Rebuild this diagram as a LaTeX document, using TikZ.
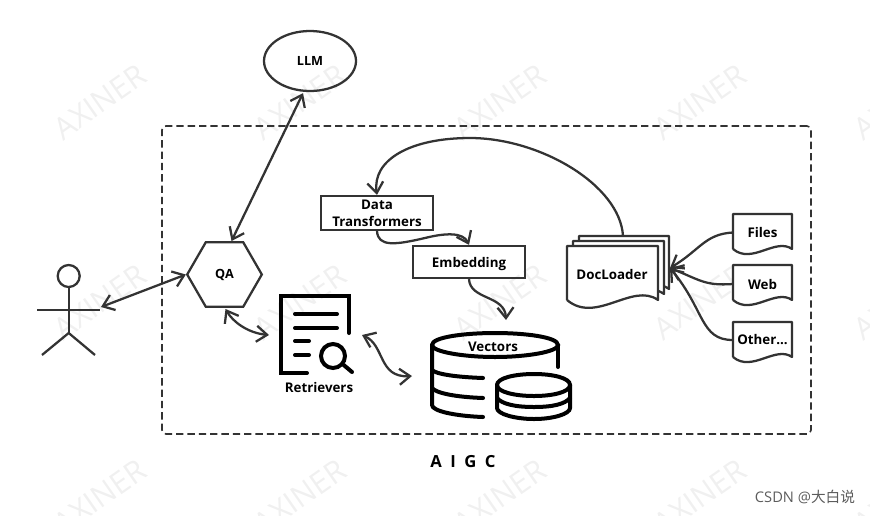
\documentclass[tikz,border=0pt]{standalone}
\usepackage{fontspec}
\usepackage{tikz}
\usetikzlibrary{arrows.meta,positioning,shapes.geometric,calc}
\setmainfont{Open Sans}
\newfontfamily\cjkfont{Noto Sans CJK SC}
\definecolor{inkline}{HTML}{333333}
\definecolor{markgray}{HTML}{F0F0F0}
\tikzset{
  barb/.tip={Straight Barb[length=8pt,width=12pt]},
  textbox/.style={draw=inkline,line width=1.7pt,minimum width=84pt,align=center,font=\fontsize{10}{12.5}\selectfont\bfseries,text=black,inner sep=0pt},
  doclabel/.style={font=\fontsize{10}{12}\selectfont\bfseries,text=black,inner sep=0pt,align=center},
  docshape/.style={draw=inkline,line width=1.7pt,fill=white,line join=round},
  revarrow/.style={-barb,line width=1.7pt,inkline},
  twoarrow/.style={barb-barb,line width=1.7pt,inkline},
  figure/.style={draw=inkline,line width=1.7pt},
  icon/.style={draw=black,line width=3pt,line cap=round},
  watermark/.style={font=\fontsize{23}{23}\selectfont,text=markgray,rotate=35,inner sep=0pt}
}
% wavy sheet: left, top, right, bottom
\newcommand{\wavesheet}[4]{%
  \draw[docshape] (#1,#4) -- (#1,#2) -- (#3,#2) -- (#3,#4)
    .. controls ($(#1,#4)!0.72!(#3,#4)+(0,{-0.2*(#3-#1)})$) and ($(#1,#4)!0.32!(#3,#4)+(0,{0.27*(#3-#1)})$) .. (#1,#4);}

\begin{document}
\begin{tikzpicture}[x=0.75pt,y=-0.75pt]
  \useasboundingbox (0,0) rectangle (870,515);
  \clip (0,0) rectangle (870,515);

  % watermarks
  \foreach \wx in {100,300,500,700,900} {
    \foreach \wy in {102,302,497} {
      \node[watermark] (mark\wx\wy) at (\wx,\wy) {AXINER};
    }
  }

  \node[draw=inkline,line width=1.2pt,dash pattern=on 5.5pt off 3pt,rounded corners=3pt,minimum width=486.75pt,minimum height=231pt,inner sep=0pt] (aigc) at (486.5,280) {};
  \node[font=\fontsize{12.5}{13}\selectfont\bfseries,text=black] (title) at (463,462) {\addfontfeature{LetterSpace=25}A I G C};
  \node[font=\fontsize{11}{12}\selectfont,text=inkline!80,inner sep=0pt] (csdn) at (805,497) {CSDN @{\cjkfont 大白说}};

  \node[ellipse,draw=inkline,line width=1.7pt,minimum width=69pt,minimum height=45pt,inner sep=0pt,font=\fontsize{9.5}{11}\selectfont\bfseries] (llm) at (310,61) {LLM};
  \node[regular polygon,regular polygon sides=6,shape border rotate=0,draw=inkline,line width=1.7pt,minimum size=56pt,inner sep=0pt,font=\fontsize{9.5}{11}\selectfont\bfseries] (qa) at (224.5,274.5) {QA};

  % stick figure
  \node[circle,figure,minimum size=16.5pt,inner sep=0pt] (head) at (68.7,276) {};
  \coordinate (hip) at (68.7,333);
  \coordinate (hand) at (101,307);
  \draw[figure] (head) -- (hip);
  \draw[figure] (37,310) -- (100,310);
  \draw[figure] (42,355) -- (hip) -- (95,355);

  % boxes
  \node[textbox,minimum height=25.5pt] (transformers) at (377,213) {Data\\Transformers};
  \node[textbox,minimum height=24pt,text depth=0pt] (embedding) at (469,262) {Embedding};

  % doc loader
  \wavesheet{579}{236}{669}{289}
  \wavesheet{573}{241}{664}{294}
  \wavesheet{567}{246}{658}{300}
  \node[doclabel,minimum width=68pt,minimum height=40pt] (docloader) at (612,274) {DocLoader};
  \coordinate (loadertop) at (623,236);
  \coordinate (loaderin) at (670,268);

  \wavesheet{733}{214}{792}{249}
  \node[doclabel,minimum width=44pt,minimum height=26pt] (files) at (762.5,232.5) {Files};
  \wavesheet{733}{265}{792}{300}
  \node[doclabel,minimum width=44pt,minimum height=26pt] (web) at (762.5,284) {Web};
  \wavesheet{733}{322}{792}{357}
  \node[doclabel,minimum width=44pt,minimum height=26pt] (other) at (762.5,340) {Other...};

  % retrievers icon
  \draw[icon] (349,333) -- (349,296) -- (281,296) -- (281,373) -- (307,373);
  \draw[icon] (295,314) -- (337,314);
  \draw[icon] (295,328) -- (337,328);
  \draw[icon] (295,341) -- (309,341);
  \draw[icon] (295,355) -- (309,355);
  \node[circle,draw=black,line width=3pt,minimum size=18pt,inner sep=0pt] (lens) at (333,356) {};
  \draw[icon] (lens) -- (352,372);
  \node[doclabel] (retrievers) at (319,387) {Retrievers};
  \coordinate (retrin) at (269,335);
  \coordinate (retrout) at (362,335);

  % vectors icon
  \draw[icon] (432,345) .. controls (432,337) and (465,333) .. (495,333) .. controls (525,333) and (558,337) .. (558,345) .. controls (558,352) and (525,357) .. (495,357) .. controls (465,357) and (432,352) .. (432,345);
  \draw[icon] (558,345) -- (558,367);
  \draw[icon] (432,345) -- (432,405) .. controls (432,411) and (455,416) .. (483,417);
  \draw[icon] (432,370) .. controls (436,374) and (455,377) .. (483,378);
  \draw[icon] (432,388) .. controls (436,393) and (455,397) .. (483,398);
  \draw[icon] (497,385) .. controls (497,378) and (515,374) .. (534,374) .. controls (553,374) and (570,378) .. (570,385) .. controls (570,392) and (553,396) .. (534,396) .. controls (515,396) and (497,392) .. (497,385);
  \draw[icon] (497,385) -- (497,408) .. controls (497,414) and (515,419) .. (534,419) .. controls (553,419) and (570,414) .. (570,408) -- (570,385);
  \draw[icon] (497,398) .. controls (502,404) and (515,407) .. (534,407) .. controls (553,407) and (565,404) .. (570,398);
  \node[doclabel] (vectors) at (493,347) {Vectors};
  \coordinate (vecin) at (506,320);
  \coordinate (vecout) at (412,376);

  % connectors
  \draw[twoarrow] (hand) -- (qa.west);
  \draw[twoarrow] ($(llm.south)+(-7,1)$) -- ($(qa.north)+(7,0)$);
  \draw[twoarrow] ($(qa.south)+(1,1)$) .. controls (233,322) and (248,333) .. (retrin);
  \draw[twoarrow] (retrout) .. controls (385,345) and (378,378) .. (vecout);
  \draw[revarrow] (loadertop) .. controls (620,185) and (540,138) .. (470,138) .. controls (410,138) and (372,160) .. (transformers.north);
  \draw[revarrow] (transformers.south) .. controls (378,247) and (395,245) .. (425,238) .. controls (445,233) and (463,232) .. (embedding.north);
  \draw[revarrow] (embedding.south) .. controls (470,300) and (505,295) .. (vecin);
  \draw[revarrow] (files.west) .. controls (705,234) and (700,250) .. (loaderin);
  \draw[revarrow] (web.west) .. controls (705,286) and (700,280) .. (loaderin);
  \draw[revarrow] (other.west) .. controls (700,340) and (705,310) .. (loaderin);
\end{tikzpicture}
\end{document}
